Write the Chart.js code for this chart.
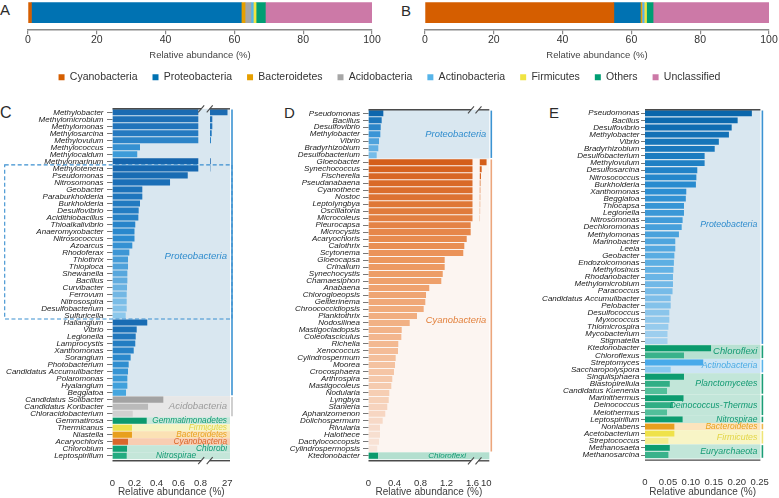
<!DOCTYPE html>
<html><head><meta charset="utf-8">
<script src="https://cdn.jsdelivr.net/npm/chart.js@4.4.1/dist/chart.umd.min.js"></script>
<style>
html,body{margin:0;padding:0;background:#fff;}
body{width:779px;height:498px;position:relative;overflow:hidden;font-family:"Liberation Sans",Arial,sans-serif;}
canvas{position:absolute;display:block;}
.pl{position:absolute;font-size:15px;line-height:1;color:#2b2b2b;}
</style></head>
<body>
<div class="pl" style="left:0px;top:2px">A</div>
<div class="pl" style="left:401px;top:3px">B</div>
<div class="pl" style="left:0px;top:104.6px;font-size:16px">C</div>
<div class="pl" style="left:284px;top:105px">D</div>
<div class="pl" style="left:549px;top:105.3px">E</div>
<canvas id="cL" width="779" height="80" style="left:0;top:57px"></canvas>
<canvas id="cA" width="390" height="65" style="left:0;top:-4px"></canvas>
<canvas id="cB" width="389" height="65" style="left:390px;top:-4px"></canvas>
<canvas id="cC" width="262" height="398" style="left:0;top:100px"></canvas>
<canvas id="cD" width="258" height="398" style="left:262px;top:100px"></canvas>
<canvas id="cE" width="259" height="398" style="left:520px;top:100px"></canvas>
<script>
// ---------------- DATA ----------------
const phyla = ['Cyanobacteria','Proteobacteria','Bacteroidetes','Acidobacteria','Actinobacteria','Firmicutes','Others','Unclassified'];
const abundanceA = [1.0, 61.0, 1.1, 1.7, 0.7, 0.8, 2.7, 31.0];
const abundanceB = [54.9, 7.7, 0.4, 0.2, 0.5, 0.7, 1.9, 33.7];
const ticksAB = [0, 20, 40, 60, 80, 100];

const generaC = ['Methylobacter','Methylomicrobium','Methylomonas','Methylosarcina','Methylovulum','Methylococcus','Methylocaldum','Methylomarinum','Methylotenera','Pseudomonas','Nitrosomonas','Geobacter','Paraburkholderia','Burkholderia','Desulfovibrio','Acidithiobacillus','Thioalkalivibrio','Anaeromyxobacter','Nitrosococcus','Azoarcus','Rhodoferax','Thiothrix','Thioploca','Shewanella','Bacillus','Curvibacter','Ferrovum','Nitrosospira','Desulfobacterium','Sulfuricella','Haliangium','Vibrio','Legionella','Lamprocystis','Xanthomonas','Sorangium','Photobacterium','Candidatus Accumulibacter','Polaromonas','Hyalangium','Beggiatoa','Candidatus Solibacter','Candidatus Koribacter','Chloracidobacterium','Gemmatirosa','Thermicanus','Niastella','Acaryochloris','Chlorobium','Leptospirillum'];
const valuesC = [27.4,4.3,4.3,3.4,2.3,0.25,0.225,1.9,1.26,0.684,0.523,0.271,0.271,0.25,0.238,0.235,0.207,0.2,0.2,0.18,0.153,0.141,0.141,0.135,0.135,0.132,0.129,0.129,0.129,0.12,0.316,0.22,0.211,0.207,0.193,0.165,0.147,0.141,0.135,0.135,0.123,0.462,0.323,0.184,0.311,0.177,0.177,0.141,0.132,0.129];
const groupsC = [['Proteobacteria',41],['Acidobacteria',3],['Gemmatimonadetes',1],['Firmicutes',1],['Bacteroidetes',1],['Cyanobacteria',1],['Chlorobi',1],['Nitrospirae',1]];
const ticksC = [0, 0.2, 0.4, 0.6, 0.8, 27];

const generaD = ['Pseudomonas','Bacillus','Desulfovibrio','Methylobacter','Vibrio','Bradyrhizobium','Desulfobacterium','Gloeobacter','Synechococcus','Fischerella','Pseudanabaena','Cyanothece','Nostoc','Leptolyngbya','Oscillatoria','Microcoleus','Pleurocapsa','Microcystis','Acaryochloris','Calothrix','Scytonema','Gloeocapsa','Crinalium','Synechocystis','Chamaesiphon','Anabaena','Chlorogloeopsis','Geitlerinema','Chroococcidiopsis','Planktothrix','Nodosilinea','Mastigocladopsis','Coleofasciculus','Richelia','Xenococcus','Cylindrospermum','Moorea','Crocosphaera','Arthrospira','Mastigocoleus','Nodularia','Lyngbya','Stanieria','Aphanizomenon','Dolichospermum','Rivularia','Halothece','Dactylococcopsis','Cylindrospermopsis','Ktedonobacter'];
const valuesD = [0.228,0.203,0.188,0.182,0.162,0.151,0.126,10.5,4.1,3.2,2.5,2.3,2.2,2.1,2.0,1.9,1.572,1.572,1.511,1.474,1.458,1.172,1.172,1.142,1.12,0.935,0.885,0.874,0.849,0.746,0.634,0.511,0.505,0.458,0.454,0.418,0.408,0.392,0.366,0.351,0.32,0.311,0.289,0.258,0.218,0.177,0.177,0.162,0.135,0.146];
const groupsD = [['Proteobacteria',7],['Cyanobacteria',42],['Chloroflexi',1]];
const ticksD = [0, 0.4, 0.8, 1.2, 1.6, 10];

const generaE = ['Pseudomonas','Bacillus','Desulfovibrio','Methylobacter','Vibrio','Bradyrhizobium','Desulfobacterium','Methylovulum','Desulfosarcina','Nitrosococcus','Burkholderia','Xanthomonas','Beggiatoa','Thiocapsa','Legionella','Nitrosomonas','Dechloromonas','Methylomonas','Marinobacter','Leeia','Geobacter','Endozoicomonas','Methylosinus','Rhodanobacter','Methylomicrobium','Paracoccus','Candidatus Accumulibacter','Pelobacter','Desulfococcus','Myxococcus','Thiomicrospira','Mycobacterium','Stigmatella','Ktedonobacter','Chloroflexus','Streptomyces','Saccharopolyspora','Singulisphaera','Blastopirellula','Candidatus Kuenenia','Marinithermus','Deinococcus','Meiothermus','Leptospirillum','Nonlabens','Acetobacterium','Streptococcus','Methanosaeta','Methanosarcina'];
const valuesE = [0.233,0.202,0.189,0.183,0.161,0.152,0.130,0.130,0.114,0.112,0.111,0.090,0.089,0.085,0.085,0.082,0.080,0.074,0.066,0.066,0.064,0.063,0.062,0.061,0.061,0.060,0.056,0.056,0.053,0.053,0.051,0.049,0.049,0.144,0.085,0.127,0.056,0.085,0.054,0.048,0.084,0.061,0.048,0.082,0.064,0.064,0.051,0.054,0.051];
const groupsE = [['Proteobacteria',33],['Chloroflexi',2],['Actinobacteria',2],['Planctomycetes',3],['Deinococcus-Thermus',3],['Nitrospirae',1],['Bacteroidetes',1],['Firmicutes',2],['Euryarchaeota',2]];
const ticksE = [0, 0.05, 0.10, 0.15, 0.20, 0.25];

// ---------------- STYLES ----------------
const phylumColors = ['#d55e00','#0072b2','#e69f00','#a6a6a6','#56b4e9','#f0e442','#009e73','#cc79a7'];
const GREEN_T = '#129a72';
const stylesC = {
  Proteobacteria: {band:'#d9e7f0', line:'#3b93d2', text:'#2f8ccd', size:9.6, row:20.6,
    ramps:[[7,['#1b6bb2','#2479c0','#3d9bd9']],[23,['#1565ad','#2b8bd0','#8cc8ec']],[11,['#196cb3','#2a88cc','#45a6df']]]},
  Acidobacteria: {band:'#e7e7e7', line:'#c4c4c4', text:'#9b9b9b', size:9.6, bars:['#a3a3a3','#d0d0d0']},
  Gemmatimonadetes: {band:'#c9e8dc', text:GREEN_T, size:8.3, bars:['#0c9a6e']},
  Firmicutes: {band:'#f7f4c4', text:'#e2d648', size:8.3, bars:['#ede04c']},
  Bacteroidetes: {band:'#fbe1b4', text:'#e8a21f', size:8.3, bars:['#e89f1e']},
  Cyanobacteria: {band:'#f8cdb2', text:'#d9662a', size:8.3, bars:['#d9672b']},
  Chlorobi: {band:'#c4e6d9', text:GREEN_T, size:8.3, bars:['#12a073']},
  Nitrospirae: {band:'#c4e6d9', text:GREEN_T, size:8.3, bars:['#22ab80'], beforeBreak:true}
};
const stylesD = {
  Proteobacteria: {band:'#d9e7f0', line:'#3b93d2', text:'#2f8ccd', size:9.4, bars:['#0e66ad','#3a95d6','#75bce9']},
  Cyanobacteria: {band:'#fcf5f1', line:'#eca67c', text:'#e2803c', size:9.4, row:22.6, bars:['#d45e1a','#ec965c','#f4bd98','#f8e5da']},
  Chloroflexi: {band:'#b3dfcf', text:GREEN_T, size:8, bars:['#0a9a6c'], beforeBreak:true}
};
const stylesE = {
  Proteobacteria: {band:'#d9e7f0', line:'#3b93d2', text:'#2f8ccd', size:8.8, row:15.6, bars:['#0a66ab','#2a8dd1','#5fb0e4','#a3d1ef']},
  Chloroflexi: {band:'#b8e1d2', line:'#1a9e76', text:GREEN_T, size:9.4, bars:['#0a9a6c','#3ab28b']},
  Actinobacteria: {band:'#cde5f4', line:'#58b4ea', text:'#4aabe4', size:8.8, bars:['#48aaea','#88c8ef']},
  Planctomycetes: {band:'#c2e6d9', line:'#1a9e76', text:GREEN_T, size:8.8, bars:['#0d9c70','#52bf9a']},
  'Deinococcus-Thermus': {band:'#c2e6d9', line:'#1a9e76', text:GREEN_T, size:8.8, bars:['#0d9c70','#52bf9a']},
  Nitrospirae: {band:'#c2e6d9', line:'#1a9e76', text:GREEN_T, size:8.5, bars:['#0d9c70']},
  Bacteroidetes: {band:'#fce4bd', line:'#f0b64a', text:'#e8a21f', size:8.5, bars:['#e89f1e']},
  Firmicutes: {band:'#f8f5c6', line:'#efe575', text:'#e2d648', size:8.8, bars:['#efe24a','#f4ec8c']},
  Euryarchaeota: {band:'#c2e6d9', line:'#1a9e76', text:GREEN_T, size:8.8, bars:['#0d9c70','#3ab28b']}
};

Chart.defaults.font.family = '"Liberation Sans", Arial, Helvetica, sans-serif';
Chart.defaults.color = '#333';

function rgb(h){const n=parseInt(h.slice(1),16);return [n>>16&255,n>>8&255,n&255];}
function ramp(stops, n){
  const out=[];
  for(let i=0;i<n;i++){
    if(stops.length===1){out.push(stops[0]);continue;}
    const t=n===1?0:i/(n-1), f=t*(stops.length-1);
    const seg=Math.min(stops.length-2,Math.floor(f)), lt=f-seg;
    const a=rgb(stops[seg]), b=rgb(stops[seg+1]);
    out.push('rgb('+a.map((c,k)=>Math.round(c+(b[k]-c)*lt)).join(',')+')');
  }
  return out;
}

// ---------------- A / B ----------------
function stacked(id, values, padL, padR){
  return new Chart(document.getElementById(id), {
    type:'bar',
    data:{labels:[''], datasets: phyla.map((p,i)=>({label:p, data:[values[i]], backgroundColor:phylumColors[i], borderWidth:0, barThickness:20}))},
    options:{
      indexAxis:'y', responsive:false, animation:false, devicePixelRatio:1, events:[],
      layout:{padding:{left:padL, right:padR, top:0, bottom:0}},
      plugins:{legend:{display:false}, tooltip:{enabled:false}},
      scales:{
        y:{stacked:true, display:false},
        x:{stacked:true, min:0, max:100,
          afterBuildTicks:s=>{s.ticks=ticksAB.map(v=>({value:v}));},
          afterFit:s=>{s.height=31.7;},
          grid:{display:true, drawOnChartArea:false, drawTicks:true, tickLength:5, color:'#8a8a8a', lineWidth:1.2},
          border:{display:true, color:'#8a8a8a', width:1.5},
          ticks:{autoSkip:false, maxRotation:0, padding:0, font:{size:10.5}, color:'#333'},
          title:{display:true, text:'Relative abundance (%)', font:{size:9.5}, color:'#444', padding:0}}
      }
    }
  });
}
stacked('cA', abundanceA, 28, 18);
stacked('cB', abundanceB, 35, 10);

// legend
new Chart(document.getElementById('cL'), {
  type:'bar',
  data:{labels:[], datasets: phyla.map((p,i)=>({label:p, data:[], backgroundColor:phylumColors[i], borderWidth:0}))},
  options:{responsive:false, animation:false, devicePixelRatio:1, events:[],
    scales:{x:{display:false}, y:{display:false}},
    plugins:{tooltip:{enabled:false}, legend:{display:true, position:'top',
      labels:{boxWidth:6, boxHeight:6, padding:15, font:{size:10.5}, color:'#333'}}}}
});

// ---------------- C / D / E ----------------
function makeDecor(cfg){
  const stepOf = y => y.getPixelForValue(1) - y.getPixelForValue(0);
  return {
    id:'decor',
    beforeDatasetsDraw(chart){
      const {ctx, chartArea:ca} = chart, y = chart.scales.y, st = stepOf(y);
      ctx.save();
      let s = 0;
      for (const [name, n] of cfg.groups){
        const t = y.getPixelForValue(s) - st/2, b = y.getPixelForValue(s+n-1) + st/2;
        ctx.fillStyle = cfg.styles[name].band;
        ctx.fillRect(ca.left, t, ca.right-ca.left, b-t);
        s += n;
      }
      ctx.restore();
    },
    afterDatasetsDraw(chart){
      const {ctx, chartArea:ca} = chart, x = chart.scales.x, y = chart.scales.y, st = stepOf(y);
      const brk = cfg.brk;
      let bx1 = null, bx2 = null;
      if (brk){ bx1 = x.getPixelForValue(brk.cap) + brk.s1; bx2 = x.getPixelForValue(brk.post) + brk.s2; }
      ctx.save();
      let s = 0;
      for (const [name, n] of cfg.groups){
        const sty = cfg.styles[name];
        const t = y.getPixelForValue(s) - st/2, b = y.getPixelForValue(s+n-1) + st/2;
        if (sty.line){
          ctx.strokeStyle = sty.line; ctx.lineWidth = 1.6;
          ctx.beginPath(); ctx.moveTo(ca.right+2, t+0.8); ctx.lineTo(ca.right+2, b-0.8); ctx.stroke();
        }
        const row = s + (sty.row !== undefined ? sty.row : (n-1)/2);
        const yy = y.getPixelForValue(0) + row*st;
        const xr = (sty.beforeBreak && bx1 !== null) ? bx1 - 5 : ca.right - 3;
        ctx.font = 'italic ' + sty.size + 'px "Liberation Sans", Arial, sans-serif';
        ctx.fillStyle = sty.text; ctx.textAlign = 'right'; ctx.textBaseline = 'middle';
        ctx.fillText(name, xr, yy);
        s += n;
      }
      if (cfg.box){
        const t = y.getPixelForValue(cfg.box.from) - st/2, b = y.getPixelForValue(cfg.box.to) + st/2;
        ctx.setLineDash([4,2.5]); ctx.strokeStyle = '#3a8fd0'; ctx.lineWidth = 1.1;
        ctx.strokeRect(cfg.box.left, t, ca.right + 2 - cfg.box.left, b - t);
        ctx.setLineDash([]);
      }
      const yT = ca.top, yB = ca.bottom + 1.5;
      const seg = (x1,y1,x2,y2)=>{ctx.beginPath();ctx.moveTo(x1,y1);ctx.lineTo(x2,y2);ctx.stroke();};
      ctx.strokeStyle = '#4a4a4a';
      for (const yy of [yT, yB]){
        if (brk){
          ctx.lineWidth = 1.4; seg(ca.left, yy, bx1, yy); seg(bx2, yy, ca.right, yy);
          ctx.lineWidth = 1.1; seg(bx1-3, yy+3.5, bx1+3, yy-3.5); seg(bx2-3, yy+3.5, bx2+3, yy-3.5);
        } else { ctx.lineWidth = 1.4; seg(ca.left, yy, ca.right, yy); }
      }
      ctx.restore();
    }
  };
}

function panel(id, cfg){
  const colors = [];
  cfg.groups.forEach(([name,n])=>{
    const sty = cfg.styles[name];
    (sty.ramps || [[n, sty.bars]]).forEach(([m, stops])=>colors.push(...ramp(stops, m)));
  });
  const brk = cfg.brk;
  const map = v => (brk && v > brk.T) ? brk.post + (v - brk.T)*brk.k : v;
  const common = {backgroundColor:colors, borderWidth:0, grouped:false, barPercentage:cfg.barPct, categoryPercentage:1};
  const datasets = [Object.assign({data: cfg.values.map(v => (brk && v > brk.T) ? brk.cap : v)}, common)];
  if (brk) datasets.push(Object.assign({data: cfg.values.map(v => v > brk.T ? [brk.post, map(v)] : null)}, common));
  return new Chart(document.getElementById(id), {
    type:'bar',
    data:{labels:cfg.genera, datasets},
    options:{
      indexAxis:'y', responsive:false, animation:false, devicePixelRatio:1, events:[],
      layout:{padding:{left:0, right:cfg.padRight, top:cfg.padTop, bottom:0}},
      plugins:{legend:{display:false}, tooltip:{enabled:false}},
      scales:{
        x:{type:'linear', min:0, max:cfg.max,
          afterBuildTicks:s=>{s.ticks=cfg.ticks.map(t=>({value:map(t)}));},
          afterFit:s=>{s.height=cfg.xHeight;},
          grid:{display:false}, border:{display:false},
          ticks:{autoSkip:false, maxRotation:0, padding:10, font:{size:9.5}, color:'#333',
            callback:(v,i)=>cfg.tickLabel(cfg.ticks[i])},
          title:{display:true, text:'Relative abundance (%)', font:{size:10}, color:'#404040', padding:0}},
        y:{type:'category',
          afterFit:s=>{s.width=cfg.yWidth;},
          grid:{display:true, drawOnChartArea:false, drawTicks:true, tickLength:cfg.yTick[0], color:'#555', lineWidth:0.8, offset:false},
          border:{display:false},
          ticks:{autoSkip:false, padding:cfg.yTick[1], font:{size:8, style:'italic'}, color:'#222'}}
      }
    },
    plugins:[makeDecor(cfg)]
  });
}

panel('cC', {genera:generaC, values:valuesC, groups:groupsC, styles:stylesC, ticks:ticksC,
  tickLabel:t=>String(t), max:1.0682, yWidth:112.5, padRight:32, padTop:8.8, xHeight:38.8, barPct:0.86, yTick:[5.5,3.5],
  brk:{T:0.8, cap:0.78, post:0.8864, k:0.005982, s1:2.9, s2:-0.3}, box:{from:8, to:29, left:4.7}});
panel('cD', {genera:generaD, values:valuesD, groups:groupsD, styles:stylesD, ticks:ticksD,
  tickLabel:t=>String(t), max:1.8585, yWidth:106.5, padRight:30.7, padTop:9.8, xHeight:38.7, barPct:0.86, yTick:[5.5,3],
  brk:{T:1.6, cap:1.6, post:1.712, k:0.01172, s1:-1.5, s2:-1.3}});
panel('cE', {genera:generaE, values:valuesE, groups:groupsE, styles:stylesE, ticks:ticksE,
  tickLabel:t=>t===0?'0':t.toFixed(2), max:0.2516, yWidth:125, padRight:15, padTop:9.7, xHeight:39.4, barPct:0.82, yTick:[4,1.5]});
</script>
</body></html>
